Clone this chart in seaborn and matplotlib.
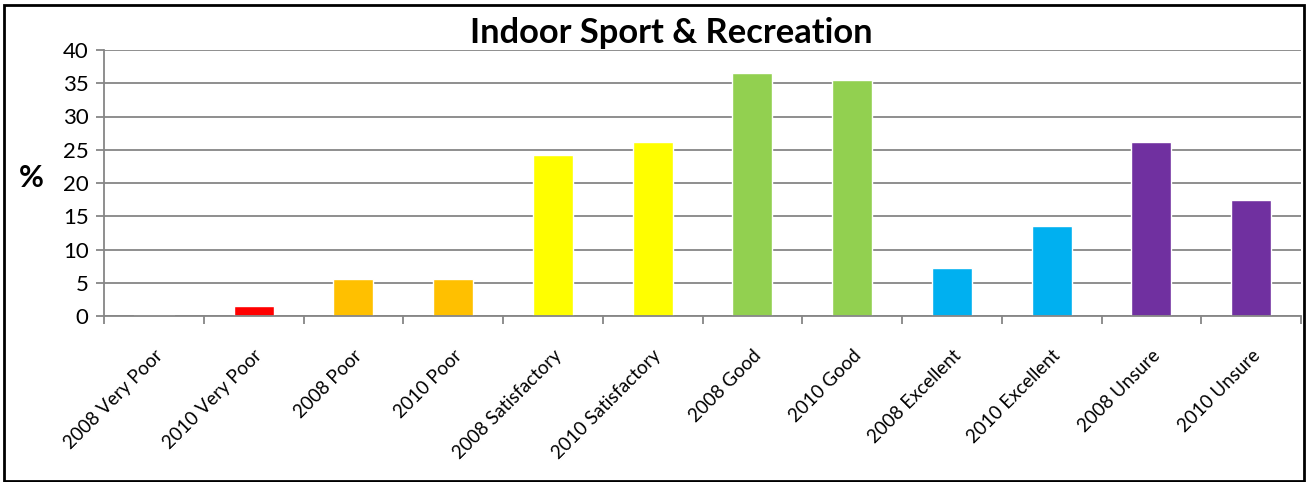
import matplotlib
matplotlib.use("Agg")
import matplotlib.pyplot as plt
from matplotlib.patches import Rectangle
from matplotlib.ticker import FixedLocator, NullFormatter
import seaborn as sns
import pandas as pd

categories = ["2008 Very Poor", "2010 Very Poor", "2008 Poor", "2010 Poor",
              "2008 Satisfactory", "2010 Satisfactory", "2008 Good", "2010 Good",
              "2008 Excellent", "2010 Excellent", "2008 Unsure", "2010 Unsure"]
values = [0.2, 1.5, 5.6, 5.6, 24.2, 26.2, 36.5, 35.5, 7.2, 13.5, 26.2, 17.4]
bar_colors = ["#C0504D", "#FF0000", "#FFC000", "#FFC000", "#FFFF00", "#FFFF00",
              "#92D050", "#92D050", "#00B0F0", "#00B0F0", "#7030A0", "#7030A0"]
yticks = [0, 5, 10, 15, 20, 25, 30, 35, 40]
title = "Indoor Sport & Recreation"

sns.set_theme(style="white")
plt.rcParams['font.family'] = ['Lato', 'DejaVu Sans']
plt.rcParams['text.color'] = 'black'
plt.rcParams['xtick.color'] = 'black'
plt.rcParams['ytick.color'] = 'black'

df = pd.DataFrame({"cat": categories, "val": values})

fig = plt.figure(figsize=(13.09, 4.82), dpi=100)
ax = fig.add_axes([104/1309, 1 - 316/482, (1301 - 104)/1309, (316 - 50)/482])

sns.barplot(data=df, x="cat", y="val", hue="cat", palette=bar_colors,
            width=0.4, legend=False, ax=ax, saturation=1)

ax.set_xlim(-0.5, len(categories) - 0.5)
ax.set_ylim(0, 40)
ax.set_yticks(yticks)
ax.set_yticklabels([str(t) for t in yticks], fontsize=16)
ax.yaxis.grid(True, color="#868686", linewidth=1.3)
ax.set_axisbelow(True)

ax.set_xticks(range(len(categories)))
ax.set_xticklabels(categories, rotation=45, ha="right", rotation_mode="anchor", fontsize=13.5)
ax.xaxis.set_minor_locator(FixedLocator([i - 0.5 for i in range(len(categories) + 1)]))
ax.xaxis.set_minor_formatter(NullFormatter())
ax.tick_params(axis="x", which="major", length=0, pad=22, labelcolor="black")
ax.tick_params(axis="x", which="minor", length=6, width=1.3, color="#868686", bottom=True)
ax.tick_params(axis="y", which="major", length=6, width=1.3, color="#868686", left=True, pad=5,
               labelcolor="black")

for s in ["top", "right"]:
    ax.spines[s].set_visible(False)
for s in ["left", "bottom"]:
    ax.spines[s].set_color("#868686")
    ax.spines[s].set_linewidth(1.3)

ax.set_xlabel("")
ax.set_ylabel("")
fig.text(31/1309, 1 - 178/482, "%", fontsize=22, fontweight="bold", ha="center", va="center",
         color="black")
fig.text(671/1309, 1 - 33/482, title, fontsize=24.8, fontweight="bold", ha="center", va="center",
         color="black")

fig.patches.append(Rectangle((4/1309, 1/482), 1300/1309, 476/482, transform=fig.transFigure,
                             fill=False, edgecolor="black", linewidth=2))

fig.savefig("out.png", dpi=100)
